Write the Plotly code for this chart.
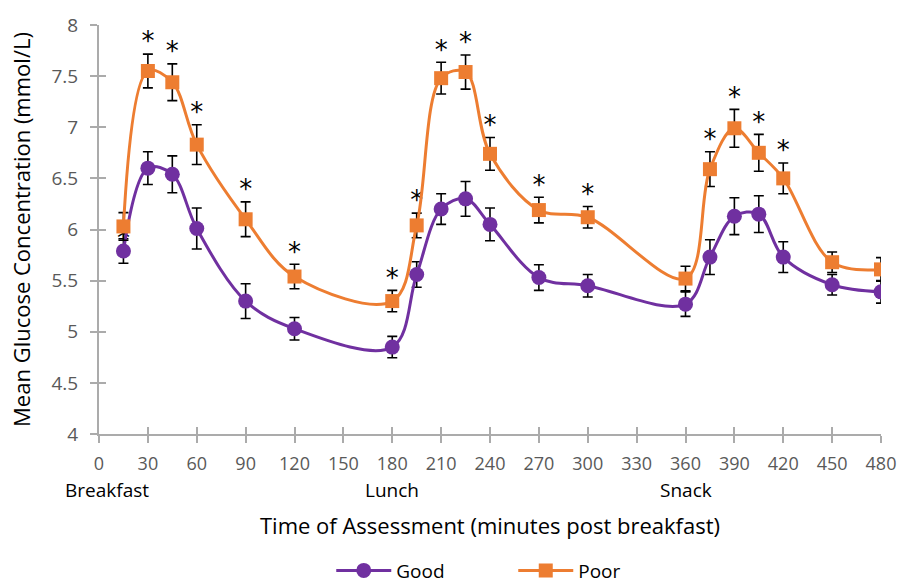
import plotly.graph_objects as go

times = [15, 30, 45, 60, 90, 120, 180, 195, 210, 225, 240, 270, 300, 360, 375, 390, 405, 420, 450, 480]
good = [5.79, 6.60, 6.54, 6.01, 5.30, 5.03, 4.85, 5.56, 6.20, 6.30, 6.05, 5.53, 5.45, 5.27, 5.73, 6.13, 6.15, 5.73, 5.46, 5.39]
good_err = [0.12, 0.16, 0.18, 0.20, 0.17, 0.11, 0.105, 0.125, 0.15, 0.17, 0.16, 0.125, 0.11, 0.12, 0.17, 0.18, 0.18, 0.15, 0.10, 0.11]
poor = [6.03, 7.55, 7.44, 6.83, 6.10, 5.54, 5.30, 6.04, 7.48, 7.54, 6.74, 6.19, 6.12, 5.52, 6.59, 6.99, 6.75, 6.50, 5.68, 5.61]
poor_err = [0.135, 0.165, 0.18, 0.195, 0.17, 0.12, 0.105, 0.12, 0.155, 0.167, 0.16, 0.125, 0.105, 0.12, 0.17, 0.185, 0.18, 0.15, 0.10, 0.115]
significant = [1, 1, 1, 1, 1, 1, 1, 1, 1, 1, 1, 1, 1, 0, 1, 1, 1, 1, 0, 0]

meal_times = [5, 180, 360]
meal_labels = ["Breakfast", "Lunch", "Snack"]

x_ticks = list(range(0, 481, 30))
y_ticks = [4, 4.5, 5, 5.5, 6, 6.5, 7, 7.5, 8]

PURPLE = "#7030A0"
ORANGE = "#ED7D31"
AXIS = "#ABABAB"
TICKTXT = "#595959"
FONT = "Open Sans"

star_gap = 0.10
star_x, star_y = [], []
for i, t in enumerate(times):
    if significant[i]:
        star_x.append(t)
        if i == 0:
            star_y.append(poor[i] - poor_err[i])
        else:
            star_y.append(poor[i] + poor_err[i] + star_gap)

fig = go.Figure()

fig.add_trace(go.Scatter(
    x=star_x, y=star_y, mode="text", text=["*"] * len(star_x),
    textfont=dict(family="DejaVu Sans", size=26, color="#000000"),
    textposition="middle center", showlegend=False, hoverinfo="skip"))

for name, vals, errs, color, symbol, msize in [
        ("Good", good, good_err, PURPLE, "circle", 15),
        ("Poor", poor, poor_err, ORANGE, "square", 14)]:
    fig.add_trace(go.Scatter(
        x=times, y=vals, name=name, mode="lines+markers",
        line=dict(color=color, width=3, shape="spline", smoothing=1.0),
        marker=dict(symbol=symbol, size=msize, color=color),
        error_y=dict(type="data", array=errs, visible=True,
                     color="#000000", thickness=1.6, width=5)))

# dummy trace on overlay axes for crossing ticks
fig.add_trace(go.Scatter(x=[None], y=[None], xaxis="x2", yaxis="y2",
                         showlegend=False, hoverinfo="skip"))

for t, lab in zip(meal_times, meal_labels):
    fig.add_annotation(x=t, y=0, xref="x", yref="paper", yanchor="middle",
                       yshift=-56, text=lab, showarrow=False,
                       font=dict(family=FONT, size=19, color="#000000"))

xr = [0, 480]
yr = [4, 8]

fig.update_layout(
    width=908, height=587,
    margin=dict(l=99, r=23, t=15, b=153),
    paper_bgcolor="white", plot_bgcolor="white",
    font=dict(family=FONT, color="#000000"),
    xaxis=dict(range=xr, tickvals=x_ticks, ticktext=[str(v) for v in x_ticks],
               showgrid=False, zeroline=False, showline=True, linecolor=AXIS,
               linewidth=2, ticks="outside", ticklen=7, tickwidth=2,
               tickcolor=AXIS, ticklabelstandoff=5,
               tickfont=dict(family=FONT, size=18, color=TICKTXT),
               title=dict(text="Time of Assessment (minutes post breakfast)",
                          font=dict(family=FONT, size=22), standoff=45)),
    yaxis=dict(range=yr, tickvals=y_ticks, ticktext=[f"{v:g}" for v in y_ticks],
               showgrid=False, zeroline=False, showline=True, linecolor=AXIS,
               linewidth=2, ticks="outside", ticklen=7, tickwidth=2,
               tickcolor=AXIS, ticklabelstandoff=8,
               tickfont=dict(family=FONT, size=19, color=TICKTXT),
               title=dict(text="Mean Glucose Concentration (mmol/L)",
                          font=dict(family=FONT, size=22), standoff=15)),
    xaxis2=dict(range=xr, overlaying="x", tickvals=x_ticks, showticklabels=False,
                showgrid=False, zeroline=False, showline=False, ticks="inside",
                ticklen=7, tickwidth=2, tickcolor=AXIS),
    yaxis2=dict(range=yr, overlaying="y", tickvals=y_ticks, showticklabels=False,
                showgrid=False, zeroline=False, showline=False, ticks="inside",
                ticklen=7, tickwidth=2, tickcolor=AXIS),
    legend=dict(orientation="h", x=0.297, xanchor="left",
                yref="container", y=0.028, yanchor="middle", itemwidth=55,
                entrywidth=112,
                font=dict(family=FONT, size=19), bgcolor="rgba(0,0,0,0)"),
    showlegend=True,
)

fig.write_html("out.html")
